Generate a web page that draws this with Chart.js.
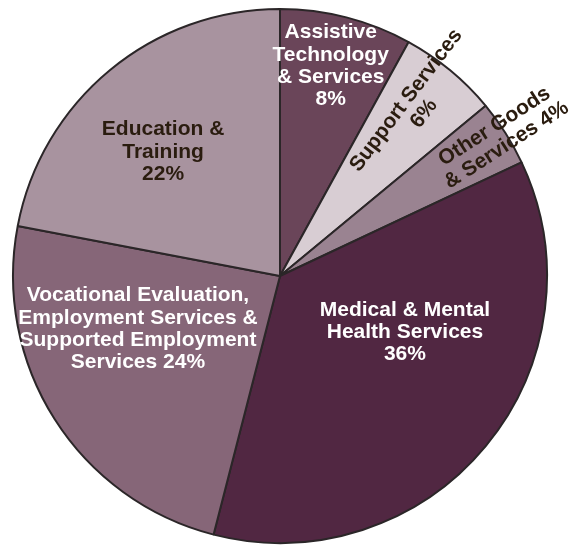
<!DOCTYPE html>
<html>
<head>
<meta charset="utf-8">
<script src="https://cdn.jsdelivr.net/npm/chart.js@4.4.1/dist/chart.umd.min.js"></script>
<style>
  html, body { margin: 0; padding: 0; background: #fff; }
  #wrap { width: 581px; height: 545px; }
</style>
</head>
<body>
<div id="wrap"><canvas id="pie" width="581" height="545"></canvas></div>
<script>
// Spending by service category, clockwise from 12 o'clock
const categories = [
  'Assistive Technology & Services',
  'Support Services',
  'Other Goods & Services',
  'Medical & Mental Health Services',
  'Vocational Evaluation, Employment Services & Supported Employment Services',
  'Education & Training'
];
const shares = [8, 6, 4, 36, 24, 22];

// text lines drawn on each slice (value appended from shares)
const labelLines = [
  ['Assistive', 'Technology', '& Services', '{v}%'],
  ['Support Services', '{v}%'],
  ['Other Goods', '& Services {v}%'],
  ['Medical & Mental', 'Health Services', '{v}%'],
  ['Vocational Evaluation,', 'Employment Services &', 'Supported Employment', 'Services {v}%'],
  ['Education &', 'Training', '{v}%']
];

const sliceColors = ['#6a4559', '#d8cdd3', '#9a8391', '#512742', '#866678', '#a8939f'];

// label placement: offset from pie centre as a fraction of the radius, rotation in degrees
const labelStyle = [
  { dx: 0.19, dy: -0.787, rot: 0, color: '#ffffff' },
  { dx: 0.506, dy: -0.633, rot: -53, color: '#2a1c0f' },
  { dx: 0.826, dy: -0.525, rot: -33, color: '#2a1c0f' },
  { dx: 0.468, dy: 0.21, rot: 0, color: '#ffffff' },
  { dx: -0.532, dy: 0.198, rot: 0, color: '#ffffff' },
  { dx: -0.438, dy: -0.465, rot: 0, color: '#2a1c0f' }
];

const sliceLabels = {
  id: 'sliceLabels',
  afterDatasetsDraw(chart) {
    const ctx = chart.ctx;
    const meta = chart.getDatasetMeta(0);
    const values = chart.data.datasets[0].data;
    meta.data.forEach((arc, i) => {
      const st = labelStyle[i];
      const r = arc.outerRadius;
      const lines = labelLines[i].map(t => t.replace('{v}', values[i]));
      const lh = 22.2;
      ctx.save();
      ctx.translate(arc.x + st.dx * r, arc.y + st.dy * r);
      ctx.rotate(st.rot * Math.PI / 180);
      ctx.font = 'bold 21px "Liberation Sans", Arial, sans-serif';
      ctx.fillStyle = st.color;
      ctx.textAlign = 'center';
      ctx.textBaseline = 'middle';
      const top = -(lines.length - 1) * lh / 2;
      lines.forEach((t, k) => ctx.fillText(t, 0, top + k * lh));
      ctx.restore();
    });
  }
};

new Chart(document.getElementById('pie'), {
  type: 'pie',
  data: {
    labels: categories,
    datasets: [{
      data: shares,
      backgroundColor: sliceColors,
      borderColor: '#2b2628',
      borderWidth: 2
    }]
  },
  options: {
    responsive: false,
    animation: false,
    layout: { padding: { left: 12, right: 33, top: 8, bottom: 1 } },
    plugins: {
      legend: { display: false },
      tooltip: { enabled: false }
    }
  },
  plugins: [sliceLabels]
});
</script>
</body>
</html>
